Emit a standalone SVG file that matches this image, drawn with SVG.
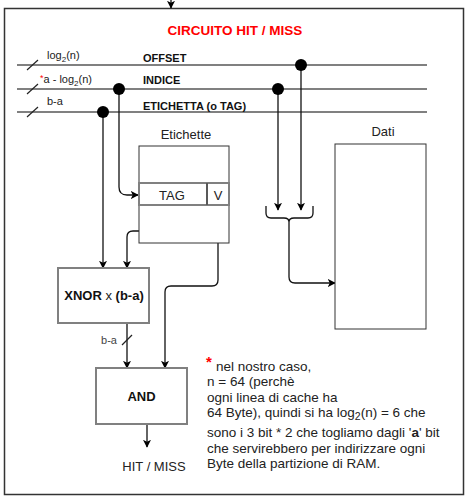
<svg xmlns="http://www.w3.org/2000/svg" width="465" height="501" viewBox="0 0 465 501">
<style>
text{font-family:"Liberation Sans",Arial,sans-serif;fill:#222}
.b{font-weight:bold;fill:#111}
.bus{stroke:#808080;stroke-width:2;fill:none}
.c{stroke:#111;stroke-width:1.3;fill:none}
.gbox{fill:#fff;stroke:#808080;stroke-width:2}
.tbox{fill:#fff;stroke:#333;stroke-width:1}
.dot{fill:#000}
</style>
<defs>
<marker id="ar" viewBox="0 0 10 10" refX="9" refY="5" markerWidth="8" markerHeight="8" markerUnits="userSpaceOnUse" orient="auto">
<path d="M0 0 L10 5 L0 10 L2.5 5 Z" fill="#000"/>
</marker>
</defs>
<rect x="0" y="0" width="465" height="501" fill="#fff"/>
<g id="frame">
<rect x="4.5" y="8.5" width="459" height="486" fill="none" stroke="#333" stroke-width="1.5"/>
</g>
<g id="title">
<text x="235" y="35" text-anchor="middle" font-size="13.5" font-weight="bold" style="fill:#f00">CIRCUITO HIT / MISS</text>
</g>
<g id="buses">
<line class="bus" x1="17" y1="65" x2="427" y2="65"/>
<line class="bus" x1="17" y1="89" x2="427" y2="89"/>
<line class="bus" x1="17" y1="112" x2="427" y2="112"/>
<line stroke="#222" stroke-width="1.2" x1="27" y1="70" x2="38" y2="60"/>
<line stroke="#222" stroke-width="1.2" x1="27" y1="94" x2="38" y2="84"/>
<line stroke="#222" stroke-width="1.2" x1="27" y1="117" x2="38" y2="107"/>
<text x="47" y="59" font-size="11">log<tspan dy="3" font-size="8">2</tspan><tspan dy="-3">(n)</tspan></text>
<text x="40" y="83" font-size="11"><tspan style="fill:#f00" font-size="9" dy="-2">*</tspan><tspan dy="2">a - log</tspan><tspan dy="3" font-size="8">2</tspan><tspan dy="-3">(n)</tspan></text>
<text x="47" y="105" font-size="11">b-a</text>
<text class="b" x="143" y="62" font-size="11">OFFSET</text>
<text class="b" x="143" y="84" font-size="11">INDICE</text>
<text class="b" x="143" y="110" font-size="11">ETICHETTA (o TAG)</text>
</g>
<g id="connectors">
<path class="c" d="M171 0 V8" marker-end="url(#ar)"/>
<path class="c" d="M119 89 V187 Q119 195 127 195 H138" marker-end="url(#ar)"/>
<path class="c" d="M103 112 V268" marker-end="url(#ar)"/>
<path class="c" d="M173 205 V225 Q173 231 167 231 H133 Q127 231 127 237 V268" marker-end="url(#ar)"/>
<path class="c" d="M218 205 V280 Q218 286 212 286 H171 Q165 286 165 292 V368" marker-end="url(#ar)"/>
<path class="c" d="M127 323 V368" marker-end="url(#ar)"/>
<path class="c" d="M147 424 V447" marker-end="url(#ar)"/>
<path class="c" d="M278 89 V210" marker-end="url(#ar)"/>
<path class="c" d="M301 65 V210" marker-end="url(#ar)"/>
<path class="c" d="M266 206 V213 Q266 218 271 218 H284 Q289 218 289 222 Q289 218 294 218 H308 Q313 218 313 213 V206"/>
<path class="c" d="M289 222 V277 Q289 283 295 283 H335" marker-end="url(#ar)"/>
<line stroke="#222" stroke-width="1.2" x1="122" y1="345" x2="132" y2="335"/>
<text x="117" y="344" font-size="11" text-anchor="end" style="fill:#444">b-a</text>
<circle class="dot" cx="301" cy="65" r="6"/>
<circle class="dot" cx="119" cy="89" r="6"/>
<circle class="dot" cx="278" cy="89" r="6"/>
<circle class="dot" cx="103" cy="112" r="6"/>
</g>
<g id="etichette">
<text x="186" y="139" font-size="13" text-anchor="middle">Etichette</text>
<rect class="tbox" x="139" y="146" width="90" height="97"/>
<rect x="139" y="183" width="68" height="22" fill="#fff" stroke="#808080" stroke-width="2"/>
<rect x="207" y="183" width="22" height="22" fill="#fff" stroke="#808080" stroke-width="2"/>
<line x1="207" y1="183" x2="207" y2="205" stroke="#333" stroke-width="1"/>
<text x="172" y="200" font-size="13" text-anchor="middle">TAG</text>
<text x="218" y="200" font-size="13" text-anchor="middle">V</text>
</g>
<g id="dati">
<text x="383" y="136" font-size="13" text-anchor="middle">Dati</text>
<rect class="tbox" x="335" y="144" width="91" height="185"/>
</g>
<g id="xnor">
<rect class="gbox" x="58" y="268" width="91" height="55"/>
<text x="104" y="300" font-size="13" text-anchor="middle"><tspan class="b">XNOR</tspan> x <tspan class="b">(b-a)</tspan></text>
</g>
<g id="and">
<rect class="gbox" x="96" y="368" width="91" height="56"/>
<text class="b" x="141.5" y="401" font-size="13" text-anchor="middle">AND</text>
</g>
<g id="hitmiss">
<text x="154" y="471" font-size="13" text-anchor="middle">HIT / MISS</text>
</g>
<g id="note" font-size="13.5">
<text x="206" y="367" font-size="15" font-weight="bold" style="fill:#f00">*</text>
<text x="216" y="371">nel nostro caso,</text>
<text x="207" y="386">n = 64 (perchè</text>
<text x="207" y="402">ogni linea di cache ha</text>
<text x="207" y="417">64 Byte), quindi si ha log<tspan dy="3" font-size="10.5">2</tspan><tspan dy="-3">(n) = 6 che</tspan></text>
<text x="207" y="437">sono i 3 bit * 2 che togliamo dagli '<tspan font-weight="bold">a</tspan>' bit</text>
<text x="207" y="453">che servirebbero per indirizzare ogni</text>
<text x="207" y="468">Byte della partizione di RAM.</text>
</g>
</svg>
